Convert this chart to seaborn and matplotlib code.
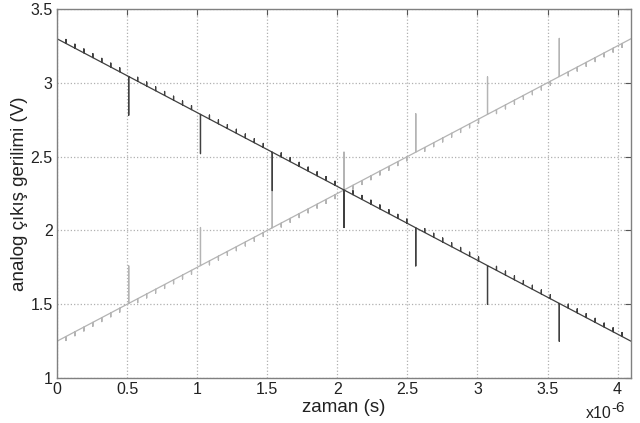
import seaborn as sns
import matplotlib.pyplot as plt
import pandas as pd

# step instants of the DAC (in microseconds)
step_time = [0, 0.064, 0.128, 0.192, 0.256, 0.32, 0.384, 0.448, 0.512, 0.576, 0.64,
             0.704, 0.768, 0.832, 0.896, 0.96, 1.024, 1.088, 1.152, 1.216, 1.28,
             1.344, 1.408, 1.472, 1.536, 1.6, 1.664, 1.728, 1.792, 1.856, 1.92,
             1.984, 2.048, 2.112, 2.176, 2.24, 2.304, 2.368, 2.432, 2.496, 2.56,
             2.624, 2.688, 2.752, 2.816, 2.88, 2.944, 3.008, 3.072, 3.136, 3.2,
             3.264, 3.328, 3.392, 3.456, 3.52, 3.584, 3.648, 3.712, 3.776, 3.84,
             3.904, 3.968, 4.032, 4.096]

# output level of the rising ramp (gray) and falling ramp (black), volts
rising = [1.25, 1.282, 1.314, 1.346, 1.378, 1.41, 1.442, 1.474, 1.506, 1.538, 1.57,
          1.602, 1.634, 1.666, 1.698, 1.73, 1.762, 1.794, 1.826, 1.858, 1.89,
          1.922, 1.954, 1.986, 2.018, 2.05, 2.082, 2.114, 2.146, 2.178, 2.21,
          2.242, 2.274, 2.306, 2.338, 2.37, 2.402, 2.434, 2.466, 2.498, 2.53,
          2.562, 2.594, 2.626, 2.658, 2.69, 2.722, 2.754, 2.786, 2.818, 2.85,
          2.882, 2.914, 2.946, 2.978, 3.01, 3.042, 3.074, 3.106, 3.138, 3.17,
          3.202, 3.234, 3.266, 3.298]
falling = [3.298, 3.266, 3.234, 3.202, 3.17, 3.138, 3.106, 3.074, 3.042, 3.01, 2.978,
           2.946, 2.914, 2.882, 2.85, 2.818, 2.786, 2.754, 2.722, 2.69, 2.658,
           2.626, 2.594, 2.562, 2.53, 2.498, 2.466, 2.434, 2.402, 2.37, 2.338,
           2.306, 2.274, 2.242, 2.21, 2.178, 2.146, 2.114, 2.082, 2.05, 2.018,
           1.986, 1.954, 1.922, 1.89, 1.858, 1.826, 1.794, 1.762, 1.73, 1.698,
           1.666, 1.634, 1.602, 1.57, 1.538, 1.506, 1.474, 1.442, 1.41, 1.378,
           1.346, 1.314, 1.282, 1.25]

# small switching spike at every code change
rising_spike = -0.027
falling_spike = 0.027

# large glitches at major code transitions
glitch_time = [0.512, 1.024, 1.536, 2.048, 2.56, 3.072, 3.584]
rising_glitch_top = [1.76, 2.02, 2.27, 2.53, 2.79, 3.04, 3.30]
falling_glitch_bottom = [2.78, 2.52, 2.27, 2.02, 1.76, 1.50, 1.25]


def build_trace(levels, spike, g_vals):
    xs, ys = [], []
    for i, (t, v) in enumerate(zip(step_time, levels)):
        xs.append(t)
        ys.append(v)
        if 0 < i < len(step_time) - 1:
            if t in glitch_time:
                xs += [t, t]
                ys += [g_vals[glitch_time.index(t)], v]
            else:
                xs += [t, t]
                ys += [v + spike, v]
    return pd.DataFrame({"t": xs, "v": ys})


df_rise = build_trace(rising, rising_spike, rising_glitch_top)
df_fall = build_trace(falling, falling_spike, falling_glitch_bottom)

sns.set_theme(style="white")
plt.rcParams['font.family'] = ['Liberation Sans', 'DejaVu Sans']

fig = plt.figure(figsize=(6.4, 4.23), dpi=100)
ax = fig.add_axes([0.089, 0.106, 0.897, 0.873])

sns.lineplot(x="t", y="v", data=df_rise, sort=False, estimator=None,
             color="#b4b4b4", linewidth=0.9, ax=ax)
sns.lineplot(x="t", y="v", data=df_fall, sort=False, estimator=None,
             color="#404040", linewidth=0.9, ax=ax)

ax.set_xlim(0, 4.096)
ax.set_ylim(1, 3.5)
ax.set_xticks([0, 0.5, 1, 1.5, 2, 2.5, 3, 3.5, 4])
ax.set_xticklabels(["0", "0.5", "1", "1.5", "2", "2.5", "3", "3.5", "4"])
ax.set_yticks([1, 1.5, 2, 2.5, 3, 3.5])
ax.set_yticklabels(["1", "1.5", "2", "2.5", "3", "3.5"])
ax.grid(True, linestyle=":", color="#b0b0b0", linewidth=0.9)
ax.tick_params(direction="in", length=4, width=0.8, color="#555555",
               labelsize=11.5, labelcolor="#222222", top=True, right=True,
               pad=3)
for s in ax.spines.values():
    s.set_color("#808080")
    s.set_linewidth(1.0)

ax.set_xlabel("zaman (s)", fontsize=13.5, color="#222222", labelpad=1)
ax.set_ylabel("analog çıkış gerilimi (V)", fontsize=13.5, color="#222222", labelpad=2)
fig.text(0.956, 0.012, "x10", ha="right", va="baseline",
         fontsize=11.5, color="#222222")
fig.text(0.956, 0.027, "-6", ha="left", va="baseline",
         fontsize=11, color="#222222")

fig.savefig("out.png", dpi=100)
